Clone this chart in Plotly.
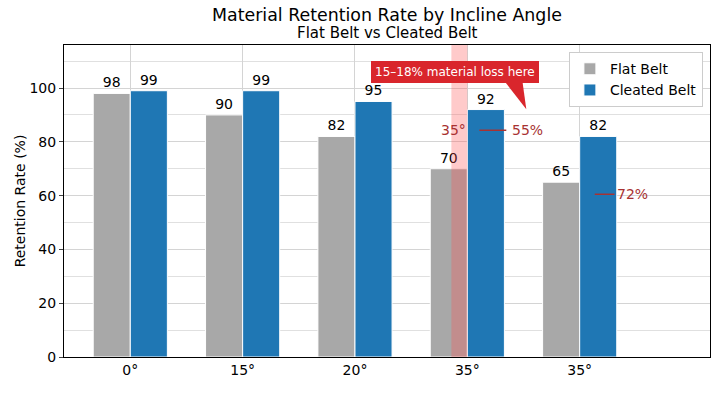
import plotly.graph_objects as go

angles = ["0°", "15°", "20°", "35°", "35°"]
flat_belt = [98, 90, 82, 70, 65]
cleated_belt = [99, 99, 95, 92, 82]
y_ticks = [0, 20, 40, 60, 80, 100]
callout_text = "15–18% material loss here"

pos = list(range(len(angles)))
FONT = "DejaVu Sans"
RED_TXT = "#a83232"

fig = go.Figure()
fig.add_bar(x=pos, y=flat_belt, name="Flat Belt",
            marker=dict(color="#a8a8a8", line=dict(color="white", width=1)),
            text=flat_belt, textposition="outside", constraintext="none",
            textfont=dict(size=14, color="black"), cliponaxis=False)
fig.add_bar(x=pos, y=cleated_belt, name="Cleated Belt",
            marker=dict(color="#1f77b4", line=dict(color="white", width=1)),
            text=cleated_belt, textposition="outside", constraintext="none",
            textfont=dict(size=14, color="black"), cliponaxis=False)

# highlight band
fig.add_shape(type="rect", xref="x", yref="paper", x0=2.858, x1=3.0, y0=0, y1=1,
              fillcolor="rgba(255,80,80,0.3)", line=dict(width=0), layer="above")

# callout box + tail
fig.add_annotation(x=2.893, y=105.85, xref="x", yref="y", text=callout_text, showarrow=False,
                   font=dict(family=FONT, size=12, color="white"), bgcolor="#d9262c",
                   borderpad=3, bordercolor="#d9262c", borderwidth=1)
fig.add_shape(type="path", xref="x", yref="y",
              path="M 3.33 102.6 L 3.49 102.6 L 3.525 92.1 Z",
              fillcolor="#d9262c", line=dict(width=0), layer="above")

# marker annotations
fig.add_annotation(x=2.875, y=84.3, text="35°", showarrow=False,
                   font=dict(family=FONT, size=14, color=RED_TXT))
fig.add_shape(type="line", x0=3.107, x1=3.347, y0=84.3, y1=84.3,
              line=dict(color=RED_TXT, width=1.5), layer="above")
fig.add_annotation(x=3.38, y=84.3, text="55%", showarrow=False, xanchor="left",
                   font=dict(family=FONT, size=14, color=RED_TXT))
fig.add_shape(type="line", x0=4.134, x1=4.31, y0=60.5, y1=60.5,
              line=dict(color=RED_TXT, width=1.5), layer="above")
fig.add_annotation(x=4.31, y=60.5, text="72%", showarrow=False, xanchor="left",
                   font=dict(family=FONT, size=14, color=RED_TXT))

# titles
fig.add_annotation(x=0.5, y=1.095, xref="paper", yref="paper", xanchor="center", yanchor="middle",
                   text="Material Retention Rate by Incline Angle", showarrow=False,
                   font=dict(family=FONT, size=17.4, color="black"))
fig.add_annotation(x=0.5, y=1.040, xref="paper", yref="paper", xanchor="center", yanchor="middle",
                   text="Flat Belt vs Cleated Belt", showarrow=False,
                   font=dict(family=FONT, size=15, color="black"))

fig.update_layout(
    width=720, height=404,
    margin=dict(l=64, r=10, t=45, b=47),
    paper_bgcolor="white", plot_bgcolor="white",
    font=dict(family=FONT, size=14, color="black"),
    barmode="group", bargap=0.34, bargroupgap=0,
    legend=dict(x=0.989, y=0.977, xanchor="right", yanchor="top", bgcolor="white",
                bordercolor="#cccccc", borderwidth=1, font=dict(size=14)),
    showlegend=True,
)
fig.update_xaxes(range=[-0.59, 5.16], tickvals=pos, ticktext=angles,
                 showgrid=True, gridcolor="#d4d4d4", showline=True, linecolor="black",
                 mirror=True, ticks="", tickfont=dict(size=14))
fig.update_yaxes(range=[0, 116], tickvals=y_ticks, showgrid=True, gridcolor="#d4d4d4",
                 minor=dict(dtick=10, tick0=0, showgrid=True, gridcolor="#e0e0e0", ticks=""),
                 showline=True, linecolor="black", mirror=True, ticks="outside", ticklen=4,
                 tickfont=dict(size=14), zeroline=False,
                 title=dict(text="Retention Rate (%)", font=dict(size=14), standoff=0))

fig.write_html("out.html")
